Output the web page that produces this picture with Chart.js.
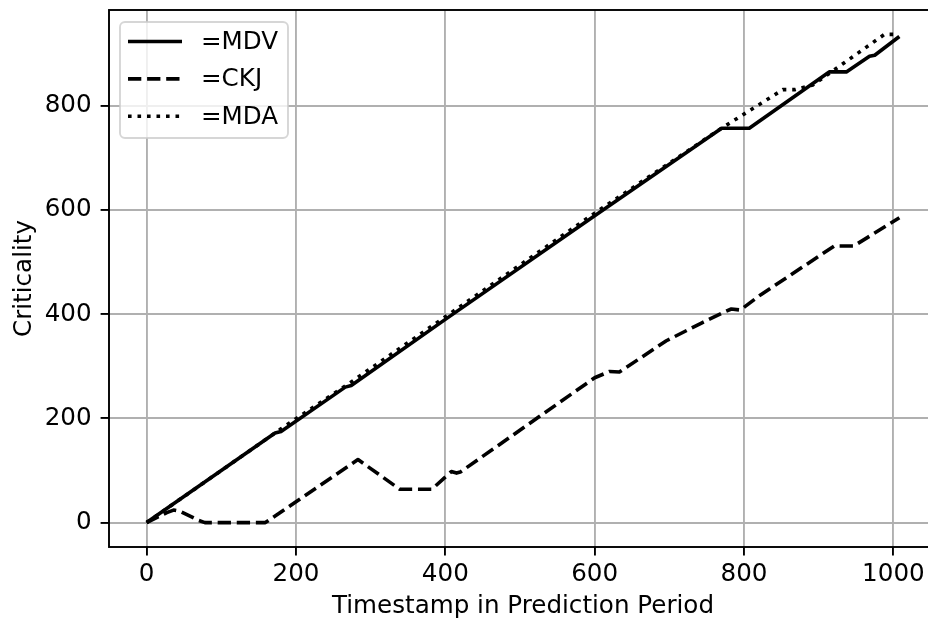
<!DOCTYPE html>
<html>
<head>
<meta charset="utf-8">
<script src="https://cdn.jsdelivr.net/npm/chart.js@4.4.0/dist/chart.umd.min.js"></script>
<style>
  html, body { margin: 0; padding: 0; background: #fff; width: 928px; height: 623px; overflow: hidden; }
  canvas { display: block; }
</style>
</head>
<body>
<canvas id="crit" width="960" height="623"></canvas>
<script>
// values
var mdvT = [0, 172, 180, 266, 274, 400, 600, 770, 807, 914, 937, 968, 975, 1008];
var mdvV = [0, 172, 175, 260, 263, 390, 589, 757, 757, 865, 865, 895, 897, 933];

var ckjT = [0, 27, 36, 44, 70, 78, 159, 283, 339, 382, 408, 415, 420, 600, 620, 633, 696, 743, 775, 783, 795, 822, 921, 947, 1008];
var ckjV = [0, 19, 24, 22, 4, 0, 0, 121, 64, 64, 98, 95, 97, 278, 290, 289, 349, 383, 405, 410, 408, 437, 531, 531, 585];

var mdaT = [0, 180, 274, 400, 600, 770, 852, 868, 892, 914, 988, 1005];
var mdaV = [0, 180, 270, 395, 594, 757, 831, 831, 840, 862, 937, 937];

var xTicks = [0, 200, 400, 600, 800, 1000];
var yTicks = [0, 200, 400, 600, 800];

function pts(t, v) {
    return t.map(function (x, i) { return { x: x, y: v[i] }; });
}

var FONT = 'DejaVu Sans';
var FS = 24.6;
var LW = 3.6;

function noPad(s) {
    s.paddingTop = 0; s.paddingBottom = 0; s.paddingLeft = 0; s.paddingRight = 0;
}

// matplotlib style frame + legend inside the axes
var framePlugin = {
    id: 'frame',
    afterDatasetsDraw: function (chart) {
        var c = chart.ctx, a = chart.chartArea;
        c.save();
        c.strokeStyle = '#000';
        c.lineWidth = 1.9;
        c.strokeRect(a.left, a.top, a.right - a.left, a.bottom - a.top);

        // legend box
        var bx = 120, by = 22, bw = 168, bh = 116, r = 5;
        c.beginPath();
        c.moveTo(bx + r, by);
        c.arcTo(bx + bw, by, bx + bw, by + bh, r);
        c.arcTo(bx + bw, by + bh, bx, by + bh, r);
        c.arcTo(bx, by + bh, bx, by, r);
        c.arcTo(bx, by, bx + bw, by, r);
        c.closePath();
        c.fillStyle = 'rgba(255,255,255,0.8)';
        c.fill();
        c.strokeStyle = 'rgba(204,204,204,0.8)';
        c.lineWidth = 1.9;
        c.stroke();

        c.font = FS + 'px "' + FONT + '"';
        c.textBaseline = 'middle';
        c.fillStyle = '#000';
        chart.data.datasets.forEach(function (ds, i) {
            var y = 41.5 + i * 37.4;
            c.beginPath();
            c.setLineDash(ds.borderDash || []);
            c.lineWidth = LW;
            c.strokeStyle = '#000';
            c.moveTo(128, y);
            c.lineTo(182, y);
            c.stroke();
            c.setLineDash([]);
            c.fillText(ds.label, 201, y + 1);
        });
        c.restore();
    }
};

var ctx = document.getElementById('crit').getContext('2d');
var chart = new Chart(ctx, {
    type: 'line',
    data: {
        datasets: [{
            label: '=MDV',
            data: pts(mdvT, mdvV),
            borderColor: '#000',
            borderWidth: LW,
            order: 3
        }, {
            label: '=CKJ',
            data: pts(ckjT, ckjV),
            borderColor: '#000',
            borderWidth: LW,
            borderDash: [13.3, 5.8],
            order: 2
        }, {
            label: '=MDA',
            data: pts(mdaT, mdaV),
            borderColor: '#000',
            borderWidth: LW,
            borderDash: [3.6, 5.9],
            order: 1
        }]
    },
    options: {
        responsive: false,
        animation: false,
        devicePixelRatio: 1,
        elements: {
            point: { radius: 0 },
            line: { tension: 0, borderJoinStyle: 'round', fill: false }
        },
        layout: {
            padding: { top: 10, right: 23, left: 0, bottom: 0 }
        },
        plugins: {
            legend: { display: false },
            tooltip: { enabled: false }
        },
        scales: {
            x: {
                type: 'linear',
                min: -50.4,
                max: 1058.4,
                afterFit: function (s) { s.height = 76; noPad(s); },
                afterBuildTicks: function (s) { s.ticks = xTicks.map(function (v) { return { value: v }; }); },
                grid: { color: '#b0b0b0', lineWidth: 1.9, tickLength: 8.4, tickColor: '#000', tickWidth: 1.9 },
                border: { display: false },
                ticks: {
                    color: '#000', padding: 4, maxRotation: 0, font: { family: FONT, size: FS },
                    callback: function (v) { return String(v); }
                },
                title: {
                    display: true,
                    text: 'Timestamp in Prediction Period',
                    color: '#000',
                    font: { family: FONT, size: FS },
                    padding: { top: 0, bottom: 2 }
                }
            },
            y: {
                type: 'linear',
                min: -46.85,
                max: 983.85,
                afterFit: function (s) { s.width = 109; noPad(s); },
                afterBuildTicks: function (s) { s.ticks = yTicks.map(function (v) { return { value: v }; }); },
                grid: { color: '#b0b0b0', lineWidth: 1.9, tickLength: 8.4, tickColor: '#000', tickWidth: 1.9 },
                border: { display: false },
                ticks: {
                    color: '#000', padding: 9, font: { family: FONT, size: FS },
                    callback: function (v) { return String(v); }
                },
                title: {
                    display: true,
                    text: 'Criticality',
                    color: '#000',
                    font: { family: FONT, size: FS },
                    padding: { top: 10, bottom: 0 }
                }
            }
        }
    },
    plugins: [framePlugin]
});
</script>
</body>
</html>
